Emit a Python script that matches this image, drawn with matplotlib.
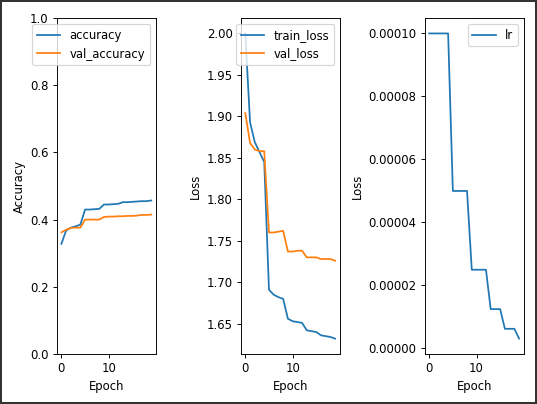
import numpy as np
import matplotlib
matplotlib.use("Agg")
import matplotlib.pyplot as plt

# Training history (20 epochs)
epochs = list(range(20))

accuracy = [0.328, 0.368, 0.376, 0.380, 0.385, 0.430, 0.430, 0.431, 0.432, 0.445,
            0.445, 0.446, 0.447, 0.452, 0.452, 0.453, 0.454, 0.455, 0.455, 0.457]
val_accuracy = [0.362, 0.370, 0.375, 0.376, 0.376, 0.400, 0.400, 0.400, 0.400, 0.408,
                0.409, 0.409, 0.410, 0.410, 0.411, 0.411, 0.412, 0.414, 0.414, 0.415]

train_loss = [2.000, 1.893, 1.869, 1.857, 1.845, 1.691, 1.685, 1.682, 1.680, 1.656,
              1.653, 1.652, 1.651, 1.642, 1.641, 1.640, 1.636, 1.635, 1.634, 1.632]
val_loss = [1.904, 1.868, 1.860, 1.858, 1.858, 1.760, 1.760, 1.761, 1.762, 1.737,
            1.737, 1.738, 1.738, 1.730, 1.730, 1.730, 1.728, 1.728, 1.728, 1.726]

lr = [1e-4] * 5 + [5e-5] * 4 + [2.5e-5] * 4 + [1.25e-5] * 3 + [6.25e-6] * 3 + [3.125e-6]

fig, axes = plt.subplots(1, 3, figsize=(537 / 84, 404 / 84), dpi=84)
fig.subplots_adjust(left=0.106, right=0.975, top=0.955, bottom=0.124, wspace=0.86)

# Accuracy panel
ax = axes[0]
ax.plot(epochs, accuracy, label="accuracy")
ax.plot(epochs, val_accuracy, label="val_accuracy")
ax.set_ylim(0, 1)
ax.set_xlabel("Epoch")
ax.set_ylabel("Accuracy")
ax.legend(loc="upper right")

# Loss panel
ax = axes[1]
ax.plot(epochs, train_loss, label="train_loss")
ax.plot(epochs, val_loss, label="val_loss")
ax.set_xlabel("Epoch")
ax.set_ylabel("Loss")
ax.legend(loc="upper right")

# Learning rate panel
ax = axes[2]
ax.plot(epochs, lr, label="lr")
ax.set_xlabel("Epoch")
ax.set_ylabel("Loss")
ax.legend(loc="upper right")

fig.patch.set_edgecolor("#333333")
fig.patch.set_linewidth(2)
fig.savefig("out.png", dpi=84, edgecolor=fig.get_edgecolor())
